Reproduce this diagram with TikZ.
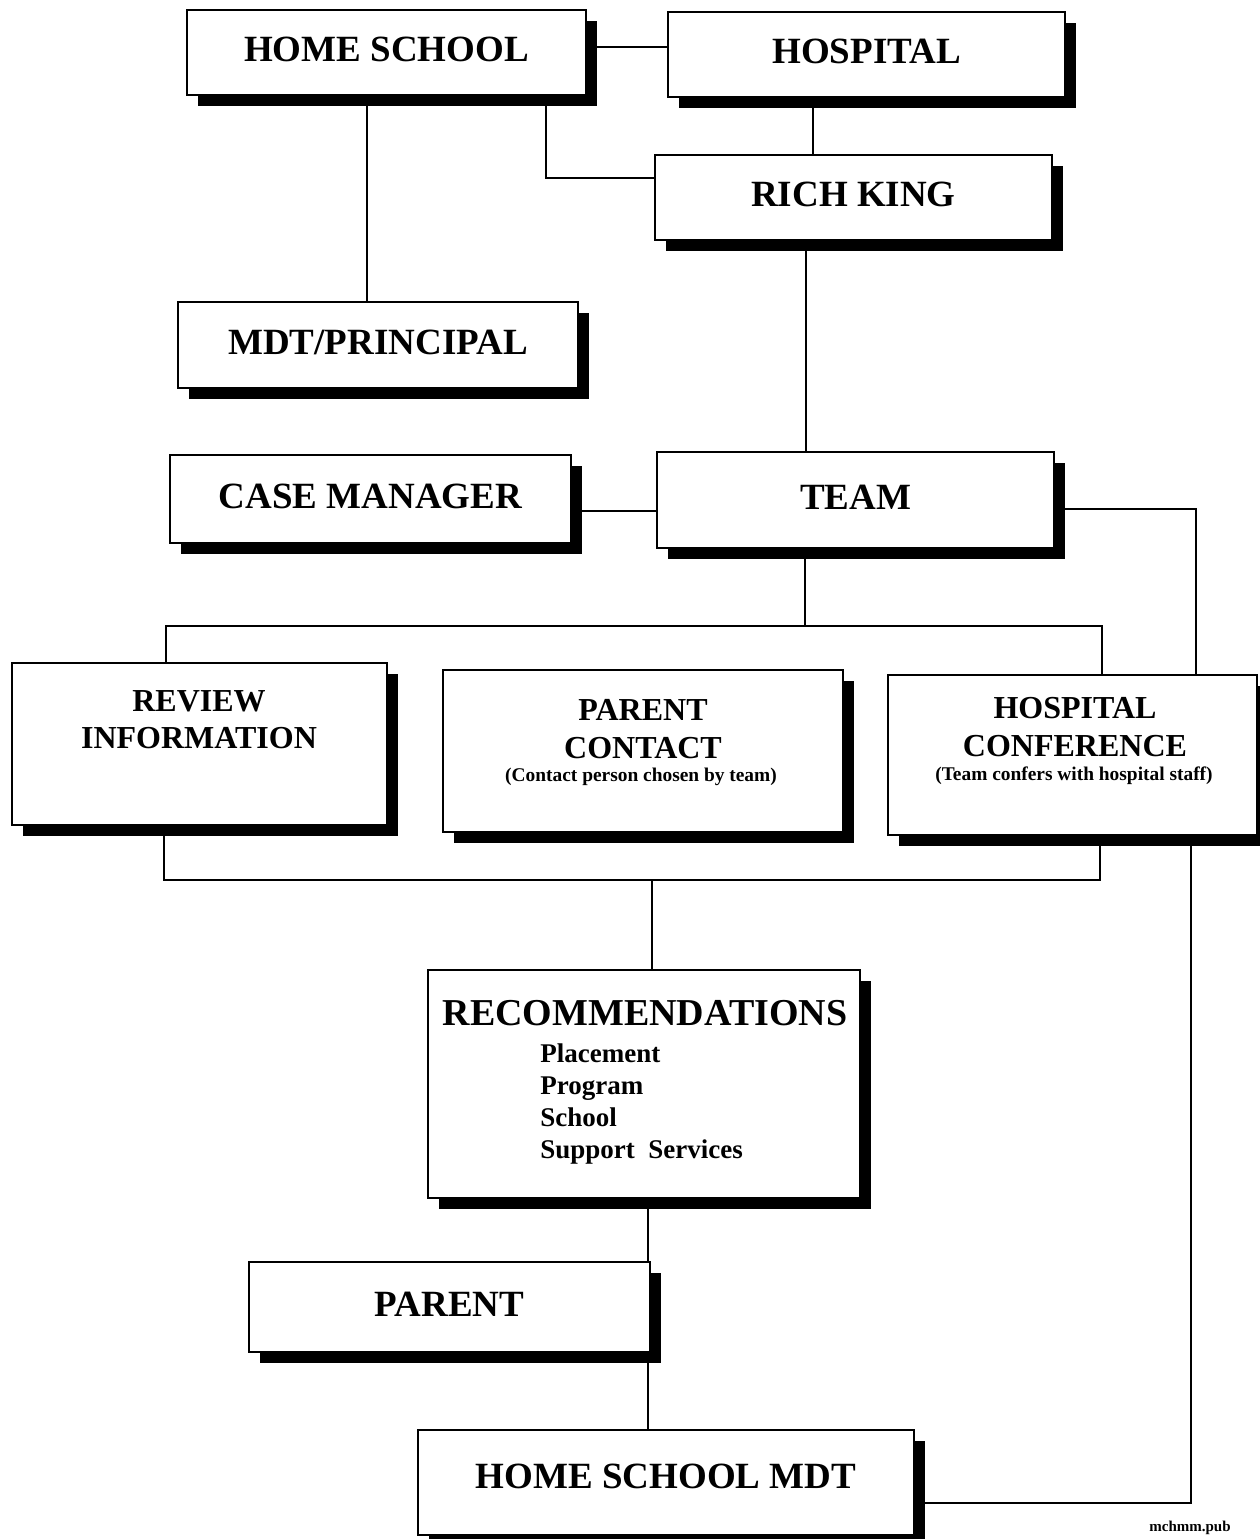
\documentclass[tikz,border=0pt]{standalone}
\usepackage{fontspec}
\setmainfont{Liberation Serif}
\usetikzlibrary{shadows,backgrounds}
\begin{document}
\begin{tikzpicture}[x=0.5pt,y=-0.5pt,
  box/.style={draw, fill=white, line width=1.4pt, inner sep=0pt, text depth=3pt,
    font=\bfseries\fontsize{18.5}{22}\selectfont,
    general shadow={fill=black, shadow xshift=5.5pt, shadow yshift=-5.5pt}},
  conn/.style={line width=1.35pt},
  lbl/.style={inner sep=0pt, align=center, font=\bfseries\fontsize{16}{19}\selectfont},
  sublbl/.style={inner sep=0pt, font=\bfseries\fontsize{9.7}{11}\selectfont}]
\useasboundingbox (0,0) rectangle (1260,1539);
\clip (0,0) rectangle (1260,1539);
% boxes
\node[box, minimum width=199.5pt, minimum height=42.5pt] (hs) at (386.5,52.5) {HOME SCHOOL};
\node[box, minimum width=198.5pt, minimum height=42.5pt] (hosp) at (866.5,54.5) {HOSPITAL};
\node[box, minimum width=198.5pt, minimum height=42.5pt] (rk) at (853.5,197.5) {RICH KING};
\node[box, minimum width=200pt, minimum height=43pt] (mdt) at (378,345) {MDT/PRINCIPAL};
\node[box, minimum width=200.5pt, minimum height=44pt] (cm) at (370.5,499) {CASE MANAGER};
\node[box, minimum width=198.5pt, minimum height=48pt] (team) at (855.5,500) {TEAM};
\node[box, minimum width=187.5pt, minimum height=81pt] (rev) at (199.5,744) {};
\node[box, minimum width=200pt, minimum height=81pt] (pc) at (643,751) {};
\node[box, minimum width=184.5pt, minimum height=80pt] (hc) at (1072.5,755) {};
\node[box, minimum width=216pt, minimum height=114pt] (rec) at (644,1084) {};
\node[box, minimum width=200.5pt, minimum height=45pt] (par) at (449.5,1307) {PARENT};
\node[box, minimum width=248pt, minimum height=52.5pt, text depth=6pt] (hsm) at (666,1482.5) {HOME SCHOOL MDT};
% texts of the large boxes
\node[lbl, anchor=north, font=\bfseries\fontsize{16}{18.5}\selectfont] (revt) at (199,690) {REVIEW\\INFORMATION};
\node[lbl, anchor=north] (pct) at (643,699) {PARENT\\CONTACT};
\node[sublbl, anchor=base] (pcs) at (641,781) {(Contact person chosen by team)};
\node[lbl, anchor=north] (hct) at (1075,697) {HOSPITAL\\CONFERENCE};
\node[sublbl, anchor=base] (hcs) at (1074,780) {(Team confers with hospital staff)};
\node[inner sep=0pt, anchor=base, font=\bfseries\fontsize{19}{22}\selectfont] (rect) at (645,1025) {RECOMMENDATIONS};
\node[inner sep=0pt, anchor=north west, align=left, font=\bfseries\fontsize{13.5}{16}\selectfont] (recl) at (540,1043) {Placement\\Program\\School\\Support\ \ Services};
\node[inner sep=0pt, font=\bfseries\fontsize{7.5}{9}\selectfont] (foot) at (1190,1528) {mchmm.pub};
% lane coordinates
\coordinate (yA) at (0,47);
\coordinate (x1) at (813,0);
\coordinate (e1) at (546,178);
\coordinate (x2) at (367,0);
\coordinate (x3) at (806,0);
\coordinate (yB) at (0,511);
\coordinate (e2) at (1196,509);
\coordinate (e3) at (1191,1503);
\coordinate (tb) at (805,626);
\coordinate (lb) at (166,0);
\coordinate (rb) at (1102,0);
\coordinate (bb) at (652,880);
\coordinate (lb2) at (164,0);
\coordinate (rb2) at (1100,0);
\coordinate (x5) at (648,0);
\begin{pgfonlayer}{background}
\draw[conn] (hs.east |- yA) -- (hosp.west |- yA);
\draw[conn] (hosp.south -| x1) -- (rk.north -| x1);
\draw[conn] (hs.south -| e1) -- (e1) -- (rk.west |- e1);
\draw[conn] (hs.south -| x2) -- (mdt.north -| x2);
\draw[conn] (rk.south -| x3) -- (team.north -| x3);
\draw[conn] (cm.east |- yB) -- (team.west |- yB);
\draw[conn] (team.east |- e2) -- (e2) -- (hc.north -| e2);
\draw[conn] (hc.south -| e3) -- (e3) -- (hsm.east |- e3);
\draw[conn] (team.south -| tb) -- (tb);
\draw[conn] (rev.north -| lb) |- (tb) -| (hc.north -| rb);
\draw[conn] (rev.south -| lb2) |- (bb) -| (hc.south -| rb2);
\draw[conn] (bb) -- (rec.north -| bb);
\draw[conn] (rec.south -| x5) -- (par.north -| x5);
\draw[conn] (par.south -| x5) -- (hsm.north -| x5);
\end{pgfonlayer}
\end{tikzpicture}
\end{document}
